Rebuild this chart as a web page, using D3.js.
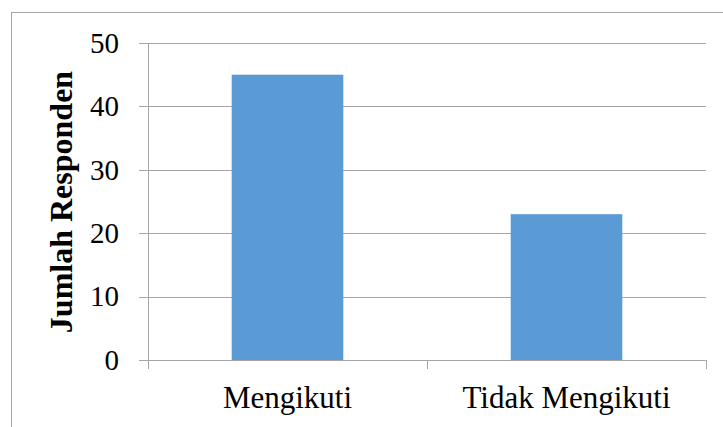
<!DOCTYPE html>
<html lang="en">
<head>
<meta charset="utf-8">
<title>Jumlah Responden</title>
<script src="https://cdn.jsdelivr.net/npm/d3@7"></script>
<style>
body { margin: 0; background: #fff; }
text { font-family: "Liberation Serif", "Times New Roman", serif; fill: #000; }
</style>
</head>
<body>
<script>
// data
var categories = ["Mengikuti", "Tidak Mengikuti"];
var values = [45, 23];
var yTicks = [0, 10, 20, 30, 40, 50];

var w = 723, h = 427;
var padL = 148, padR = 706, padT = 43, padB = 360;

var svg = d3.select("body").append("svg")
  .attr("width", w)
  .attr("height", h);

// outer frame
svg.append("rect")
  .attr("x", 11.5).attr("y", 12.5)
  .attr("width", 730).attr("height", 430)
  .attr("fill", "none")
  .attr("stroke", "#a6a6a6")
  .attr("stroke-width", 1);

var x = d3.scaleBand().domain(categories).range([padL, padR]).paddingInner(0).paddingOuter(0);
var y = d3.scaleLinear().domain([0, 50]).range([padB, padT]);

// gridlines
svg.selectAll("line.grid")
  .data(yTicks)
  .enter()
  .append("line")
  .attr("class", "grid")
  .attr("x1", padL - 9).attr("x2", padR)
  .attr("y1", function(d) { return Math.round(y(d)) + 0.5; })
  .attr("y2", function(d) { return Math.round(y(d)) + 0.5; })
  .attr("stroke", "#a6a6a6");

// y axis line
svg.append("line")
  .attr("x1", padL + 0.5).attr("x2", padL + 0.5)
  .attr("y1", padT).attr("y2", padB + 9)
  .attr("stroke", "#a6a6a6");

// category ticks
var bounds = [padL + x.bandwidth(), padR];
svg.selectAll("line.ctick")
  .data(bounds)
  .enter()
  .append("line")
  .attr("class", "ctick")
  .attr("x1", function(d) { return Math.round(d) + 0.5; })
  .attr("x2", function(d) { return Math.round(d) + 0.5; })
  .attr("y1", padB).attr("y2", padB + 9)
  .attr("stroke", "#a6a6a6");

// bars
var bw = x.bandwidth() * 0.4;
svg.selectAll("rect.bar")
  .data(values)
  .enter()
  .append("rect")
  .attr("class", "bar")
  .attr("x", function(d, i) { return x(categories[i]) + (x.bandwidth() - bw) / 2; })
  .attr("y", function(d) { return y(d); })
  .attr("width", bw)
  .attr("height", function(d) { return padB - y(d); })
  .attr("fill", "#5b9bd5");

// y tick labels
svg.selectAll("text.ylab")
  .data(yTicks)
  .enter()
  .append("text")
  .attr("class", "ylab")
  .attr("x", 119)
  .attr("y", function(d) { return y(d); })
  .attr("dy", "0.34em")
  .attr("text-anchor", "end")
  .style("font-size", "29px")
  .text(function(d) { return d; });

// x labels
svg.selectAll("text.xlab")
  .data(categories)
  .enter()
  .append("text")
  .attr("class", "xlab")
  .attr("x", function(d) { return x(d) + x.bandwidth() / 2; })
  .attr("y", 408)
  .attr("text-anchor", "middle")
  .style("font-size", "31px")
  .text(function(d) { return d; });

// y axis title
svg.append("text")
  .attr("transform", "translate(72,202) rotate(-90)")
  .attr("text-anchor", "middle")
  .style("font-size", "32px")
  .style("font-weight", "bold")
  .text("Jumlah Responden");
</script>
</body>
</html>
